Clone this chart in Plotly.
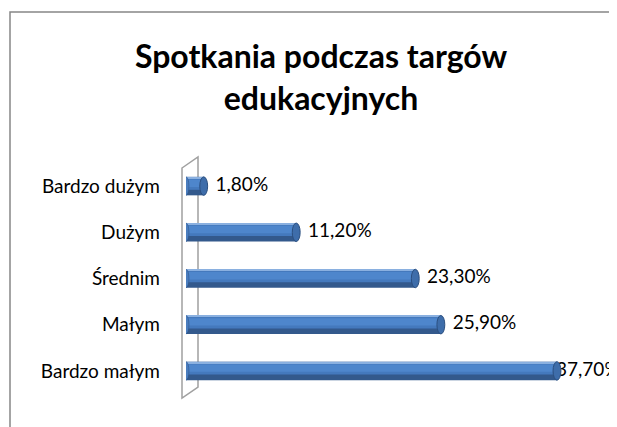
import plotly.graph_objects as go

categories = ["Bardzo małym", "Małym", "Średnim", "Dużym", "Bardzo dużym"]
values = [37.7, 25.9, 23.3, 11.2, 1.8]
labels = ["37,70%", "25,90%", "23,30%", "11,20%", "1,80%"]

# page body has an 8px margin, so the figure is laid out in shifted coordinates
OFF = 8
W, H = 617 - OFF, 427 - OFF
ML, MR, MT, MB = 186 - OFF, 0, 163 - OFF, 33
PW = W - ML - MR
PH = H - MT - MB
XMAX = 43.8


def px(x):
    return (x - OFF - ML) / PW


def py(y):
    return (H - MB - (y - OFF)) / PH


fig = go.Figure()
bw = 0.4
# cylinder body: dark base, mid band, highlight
fig.add_trace(go.Bar(y=categories, x=values, orientation="h", width=bw, offset=-bw / 2,
                     marker=dict(color="#33598C", line=dict(width=0)), hoverinfo="skip"))
fig.add_trace(go.Bar(y=categories, x=values, orientation="h", width=0.25, offset=-0.08,
                     marker=dict(color="#4479BD", line=dict(width=0)), hoverinfo="skip"))
fig.add_trace(go.Bar(y=categories, x=values, orientation="h", width=0.16, offset=-0.02,
                     marker=dict(color="#4E86CC", line=dict(width=0)), hoverinfo="skip"))
fig.add_trace(go.Bar(y=categories, x=values, orientation="h", width=0.03, offset=0.17,
                     marker=dict(color="#8AB0E0", line=dict(width=0)), hoverinfo="skip"))
label_x = [min(v + 1.2, XMAX - 6.2) for v in values]
fig.add_trace(go.Scatter(y=categories, x=label_x, mode="text",
                         text=labels, textposition="middle right",
                         textfont=dict(family="Lato", size=19, color="#000000"),
                         cliponaxis=False, hoverinfo="skip"))

shapes = []
# border of chart area
shapes.append(dict(type="rect", xref="paper", yref="paper",
                   x0=px(10), y0=py(440), x1=px(640), y1=py(12),
                   line=dict(color="#868686", width=1.5), layer="below"))
# left wall
shapes.append(dict(type="path", xref="paper", yref="paper",
                   path=f"M {px(182)},{py(168)} L {px(198)},{py(157)} L {px(198)},{py(387)} L {px(182)},{py(398)} Z",
                   line=dict(color="#A0A0A0", width=1.5), fillcolor="#FFFFFF", layer="below"))
# end caps of cylinders
for i, v in enumerate(values):
    shapes.append(dict(type="circle", xref="x", yref="y",
                       x0=v - 0.4, x1=v + 0.4, y0=i - bw / 2, y1=i + bw / 2,
                       fillcolor="#3E6DAA", line=dict(color="#2B4F80", width=1), layer="above"))
    shapes.append(dict(type="circle", xref="x", yref="y",
                       x0=-0.3, x1=0.3, y0=i - bw / 2, y1=i + bw / 2,
                       fillcolor="#4A7DBE", line=dict(color="#2B4F80", width=0.5), layer="above"))

fig.update_layout(
    width=W, height=H,
    margin=dict(l=ML, r=MR, t=MT, b=MB),
    paper_bgcolor="white", plot_bgcolor="rgba(0,0,0,0)",
    barmode="overlay", showlegend=False,
    title=dict(text="Spotkania podczas targów<br>edukacyjnych",
               xref="container", yref="container", x=(321 - OFF) / W, y=1 - (68 - OFF) / H,
               xanchor="center", yanchor="top",
               font=dict(family="Lato", size=32, color="#000000", weight="bold")),
    xaxis=dict(range=[0, XMAX], visible=False, showgrid=False, zeroline=False),
    yaxis=dict(categoryorder="array", categoryarray=categories, showgrid=False,
               zeroline=False, showline=False, ticks="", ticklabelstandoff=25,
               tickfont=dict(family="Lato", size=19, color="#000000"),
               range=[-0.5, 4.5]),
    shapes=shapes,
)

fig.write_html("out.html")
